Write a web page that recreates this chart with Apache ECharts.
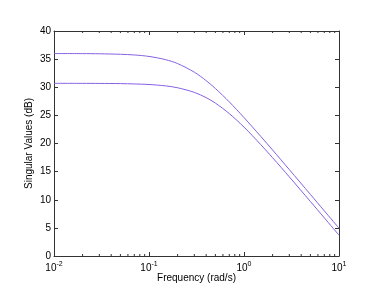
<!DOCTYPE html>
<html><head><meta charset="utf-8">
<script src="https://cdn.jsdelivr.net/npm/echarts@6/dist/echarts.min.js"></script>
<style>html,body{margin:0;padding:0;background:#fff}#c{width:374px;height:288px}</style>
</head><body><div id="c"></div>
<script>
var freq = [0.01, 0.02, 0.03, 0.05, 0.07, 0.1, 0.15, 0.2, 0.3, 0.4, 0.5, 0.7, 1, 1.5, 2, 3, 5, 7, 10];
var sv1 = [35.99, 35.98, 35.95, 35.86, 35.74, 35.48, 34.9, 34.21, 32.68, 31.17, 29.78, 27.4, 24.61, 21.27, 18.84, 15.36, 10.95, 8.03, 4.94];
var sv2 = [30.7, 30.69, 30.68, 30.65, 30.59, 30.49, 30.24, 29.91, 29.09, 28.15, 27.18, 25.32, 22.92, 19.81, 17.47, 14.07, 9.69, 6.79, 3.7];
var yTicks = [0, 5, 10, 15, 20, 25, 30, 35, 40];
var minorX = [0.02,0.03,0.04,0.05,0.06,0.07,0.08,0.09,0.2,0.3,0.4,0.5,0.6,0.7,0.8,0.9,2,3,4,5,6,7,8,9];

var chart = echarts.init(document.getElementById('c'));
var font = 'Liberation Sans, Arial, sans-serif';
var lineColor = '#333';
function pairs(xs, ys){ return xs.map(function(x,i){return [x, ys[i]];}); }
var xBase = {
  type: 'log', logBase: 10, min: 0.01, max: 10,
  axisLine: {show: true, onZero: false, lineStyle: {color: lineColor, width: 1}},
  axisTick: {show: true, inside: true, length: 4, lineStyle: {color: lineColor}},
  splitLine: {show: false}
};
var yBase = {
  type: 'value', min: 0, max: 40, interval: 5,
  axisLine: {show: true, onZero: false, lineStyle: {color: lineColor, width: 1}},
  axisTick: {show: true, inside: true, length: 4, lineStyle: {color: lineColor}},
  splitLine: {show: false}
};
chart.setOption({
  animation: false,
  grid: {left: 54, right: 35, top: 31, bottom: 32, containLabel: false, outerBoundsMode: 'none'},
  xAxis: [
    Object.assign({}, xBase, {
      position: 'bottom',
      name: 'Frequency (rad/s)', nameLocation: 'middle', nameGap: 17, nameMoveOverlap: false,
      nameTextStyle: {fontFamily: font, fontSize: 10, color: '#000'},
      axisLabel: {
        margin: 5, fontFamily: font, color: '#000',
        formatter: function(v){ var e = Math.round(Math.log10(v)); return '{b|10}{s|' + e + '}'; },
        rich: {b: {fontSize: 10, fontFamily: font, color: '#000'}, s: {fontSize: 7, fontFamily: font, color: '#000', padding: [0,0,7,0]}}
      }
    }),
    Object.assign({}, xBase, {position: 'top', axisLabel: {show: false}})
  ],
  yAxis: [
    Object.assign({}, yBase, {
      position: 'left',
      name: 'Singular Values (dB)', nameLocation: 'middle', nameGap: 20, nameMoveOverlap: false,
      nameTextStyle: {fontFamily: font, fontSize: 10, color: '#000'},
      axisLabel: {margin: 3, fontFamily: font, fontSize: 10, color: '#000',
        formatter: function(v){ return yTicks.indexOf(v) >= 0 ? String(v) : ''; }}
    }),
    Object.assign({}, yBase, {position: 'right', axisLabel: {show: false}})
  ],
  series: [
    {type: 'line', data: pairs(freq, sv1), smooth: 0.3, showSymbol: false, symbol: 'none',
      lineStyle: {color: '#8660e2', width: 1}, z: 3},
    {type: 'line', data: pairs(freq, sv2), smooth: 0.3, showSymbol: false, symbol: 'none',
      lineStyle: {color: '#8660e2', width: 1}, z: 3},
    {type: 'custom', silent: true, data: minorX.map(function(x){return [x];}),
      renderItem: function(params, api){
        var pb = api.coord([api.value(0), 0]);
        var pt = api.coord([api.value(0), 40]);
        return {type: 'group', children: [
          {type: 'line', shape: {x1: pb[0], y1: pb[1], x2: pb[0], y2: pb[1]-2}, style: {stroke: lineColor, lineWidth: 1}},
          {type: 'line', shape: {x1: pt[0], y1: pt[1], x2: pt[0], y2: pt[1]+2}, style: {stroke: lineColor, lineWidth: 1}}
        ]};
      }, z: 2}
  ]
});
</script></body></html>
